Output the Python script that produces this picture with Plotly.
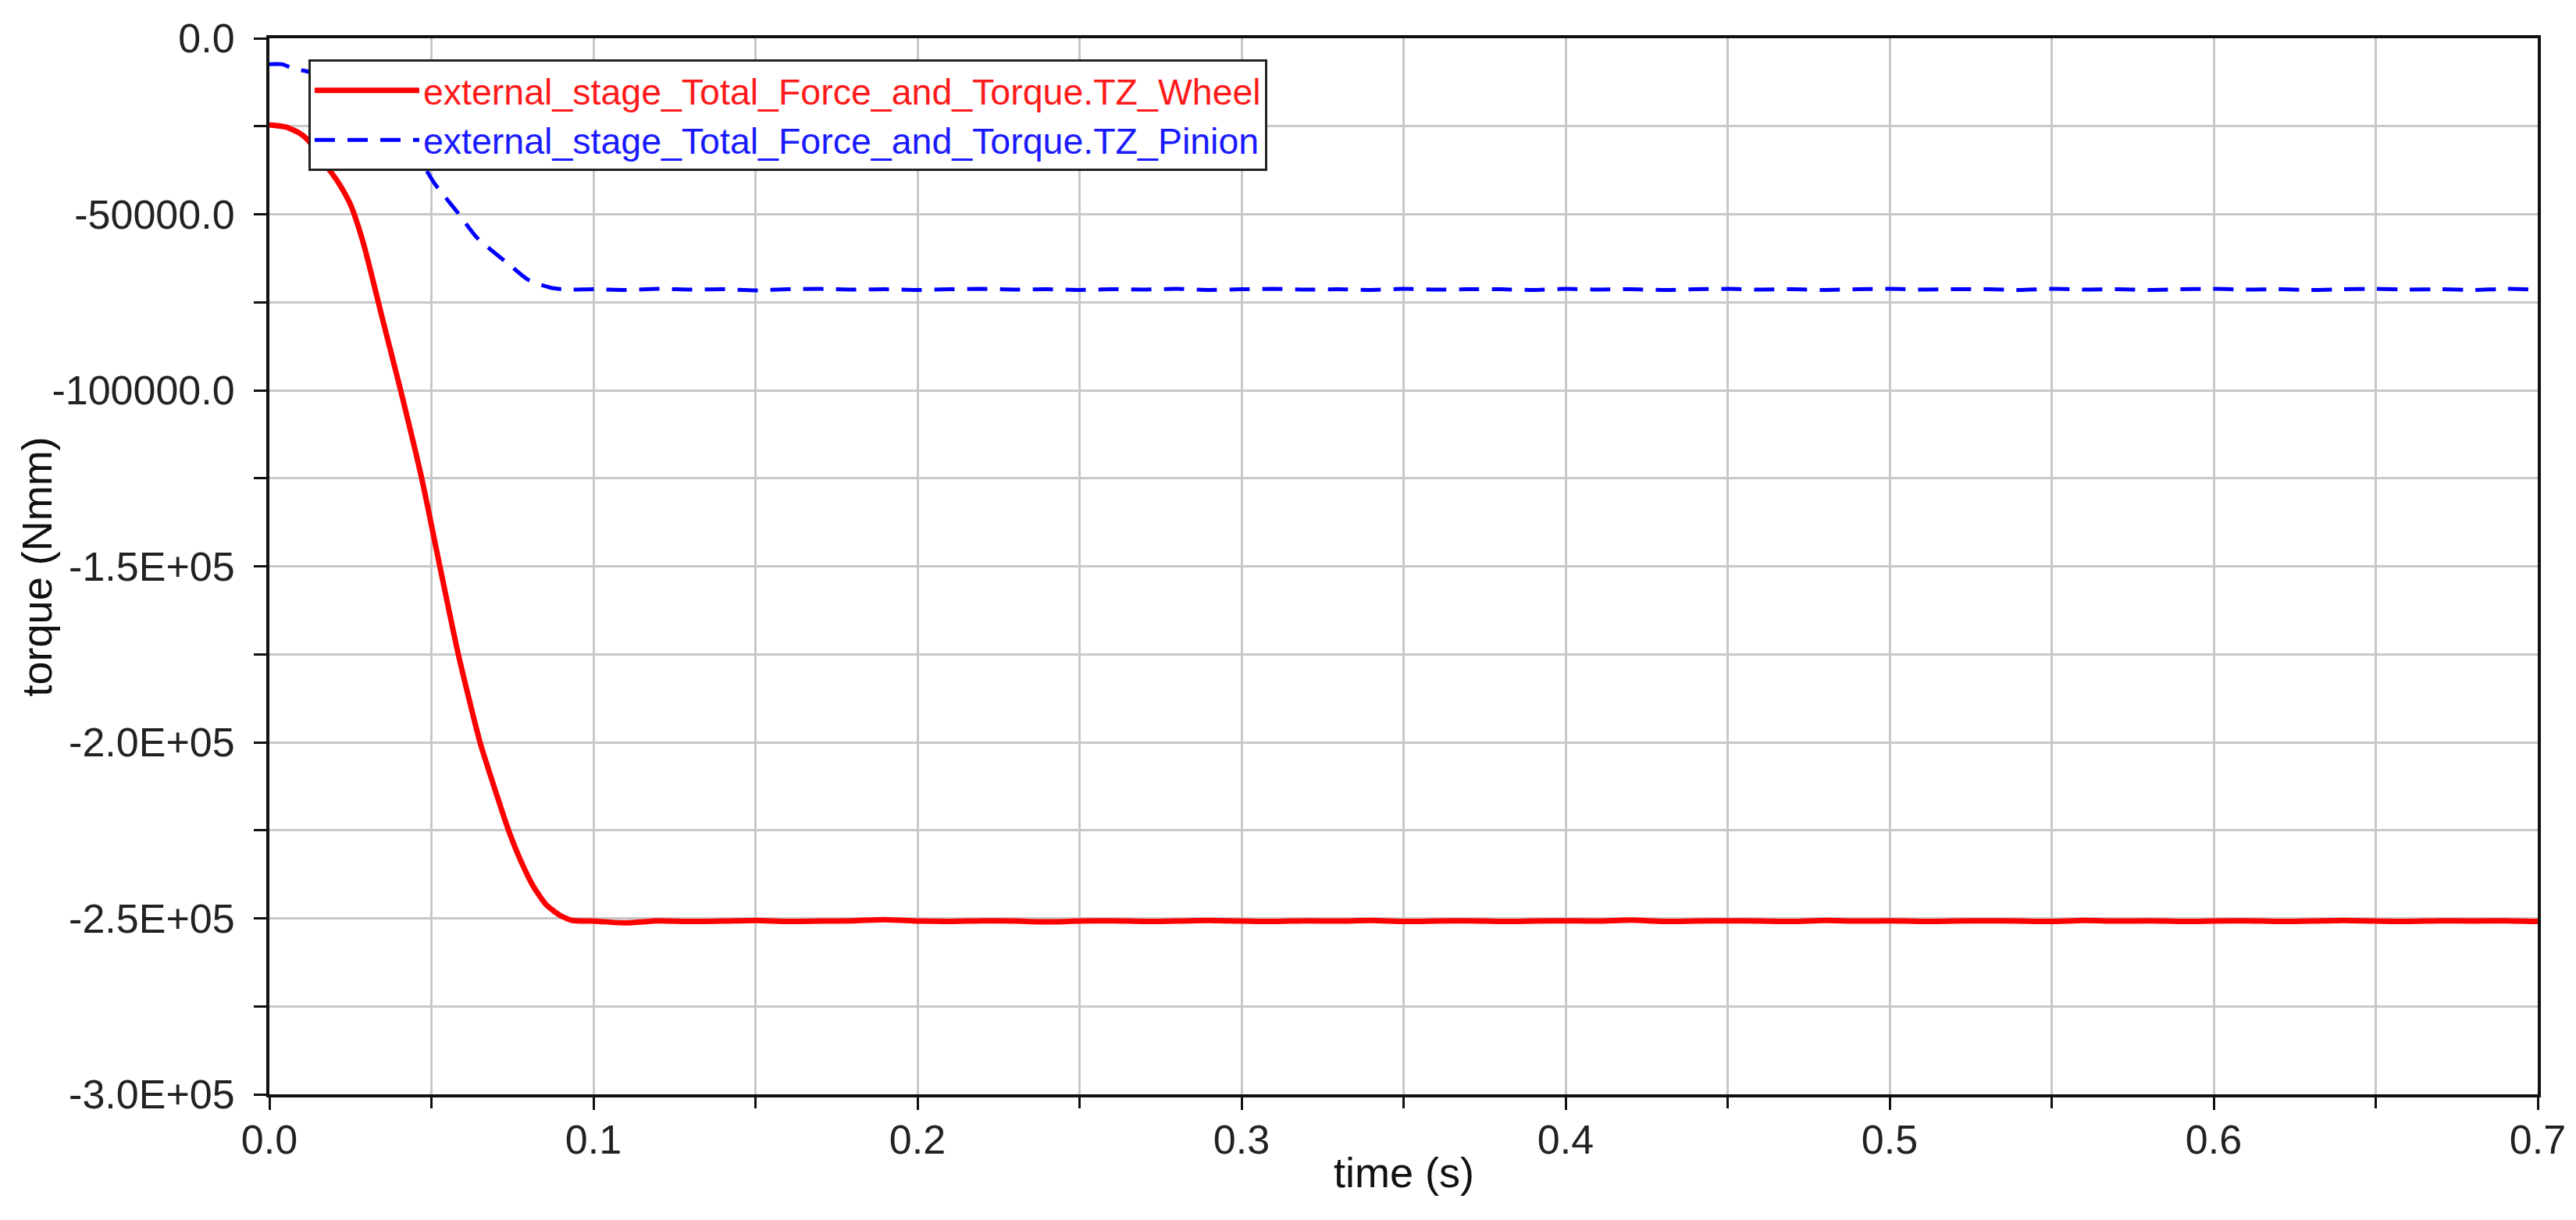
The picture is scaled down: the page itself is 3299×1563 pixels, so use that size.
import plotly.graph_objects as go

# ---------------- data ----------------
wheel_time = [0.0, 0.005, 0.009, 0.012, 0.017, 0.021, 0.025, 0.029, 0.035, 0.0405,
              0.047, 0.0526, 0.0583, 0.065, 0.0687, 0.0738, 0.0776, 0.0815, 0.0855,
              0.0896, 0.0935,
              0.10, 0.11, 0.12, 0.13, 0.14, 0.15, 0.16, 0.17, 0.18, 0.19,
              0.20, 0.21, 0.22, 0.23, 0.24, 0.25, 0.26, 0.27, 0.28, 0.29,
              0.30, 0.31, 0.32, 0.33, 0.34, 0.35, 0.36, 0.37, 0.38, 0.39,
              0.40, 0.41, 0.42, 0.43, 0.44, 0.45, 0.46, 0.47, 0.48, 0.49,
              0.50, 0.51, 0.52, 0.53, 0.54, 0.55, 0.56, 0.57, 0.58, 0.59,
              0.60, 0.61, 0.62, 0.63, 0.64, 0.65, 0.66, 0.67, 0.68, 0.69, 0.70]
wheel_torque = [-24600, -25200, -26800, -29000, -35500, -40600, -47200, -58200, -80100, -100000,
                -125000, -150000, -175000, -200000, -210800, -225000, -233700, -241000, -246200,
                -249100, -250600,
                -250800, -251300, -250700, -250900, -250800, -250600, -250900, -250800, -250700, -250400,
                -250800, -250900, -250700, -250800, -251000, -250800, -250700, -250900, -250800, -250600,
                -250800, -250900, -250700, -250800, -250600, -250900, -250800, -250700, -250900, -250800,
                -250700, -250800, -250500, -250900, -250800, -250700, -250800, -250900, -250600, -250800,
                -250700, -250900, -250800, -250700, -250800, -250900, -250600, -250800, -250700, -250900,
                -250800, -250700, -250900, -250800, -250600, -250800, -250900, -250700, -250800, -250700, -250900]

pinion_time = [0.0, 0.004, 0.0075, 0.012, 0.017, 0.021, 0.025, 0.029, 0.035, 0.0405,
               0.047, 0.051, 0.058, 0.064, 0.074, 0.080, 0.087, 0.092,
               0.10, 0.11, 0.12, 0.13, 0.14, 0.15, 0.16, 0.17, 0.18, 0.19,
               0.20, 0.21, 0.22, 0.23, 0.24, 0.25, 0.26, 0.27, 0.28, 0.29,
               0.30, 0.31, 0.32, 0.33, 0.34, 0.35, 0.36, 0.37, 0.38, 0.39,
               0.40, 0.41, 0.42, 0.43, 0.44, 0.45, 0.46, 0.47, 0.48, 0.49,
               0.50, 0.51, 0.52, 0.53, 0.54, 0.55, 0.56, 0.57, 0.58, 0.59,
               0.60, 0.61, 0.62, 0.63, 0.64, 0.65, 0.66, 0.67, 0.68, 0.69, 0.70]
pinion_torque = [-7400, -7400, -8700, -9500, -11500, -13500, -16000, -19000, -24000, -29500,
                 -35500, -41300, -49400, -56600, -64300, -68700, -70900, -71400,
                 -71300, -71500, -71200, -71400, -71300, -71600, -71300, -71200, -71400, -71300,
                 -71500, -71300, -71200, -71400, -71300, -71500, -71300, -71400, -71200, -71500,
                 -71300, -71200, -71400, -71300, -71500, -71200, -71400, -71300, -71300, -71500,
                 -71200, -71400, -71300, -71500, -71300, -71200, -71400, -71300, -71500, -71300,
                 -71200, -71400, -71300, -71300, -71500, -71200, -71400, -71300, -71500, -71300,
                 -71200, -71400, -71300, -71500, -71300, -71200, -71400, -71300, -71500, -71200, -71400]

wheel_name = "external_stage_Total_Force_and_Torque.TZ_Wheel"
pinion_name = "external_stage_Total_Force_and_Torque.TZ_Pinion"

x_tick_vals = [0.0, 0.1, 0.2, 0.3, 0.4, 0.5, 0.6, 0.7]
x_tick_text = ["0.0", "0.1", "0.2", "0.3", "0.4", "0.5", "0.6", "0.7"]
x_minor_vals = [0.05, 0.15, 0.25, 0.35, 0.45, 0.55, 0.65]
y_tick_vals = [0, -50000, -100000, -150000, -200000, -250000, -300000]
y_tick_text = ["0.0", "-50000.0", "-100000.0", "-1.5E+05", "-2.0E+05", "-2.5E+05", "-3.0E+05"]
y_minor_vals = [-25000, -75000, -125000, -175000, -225000, -275000]

# ---------------- figure ----------------
FONT = "Liberation Sans, Arial, sans-serif"
GRID = "#c8c8c8"
INK = "#111111"

fig = go.Figure()
fig.add_trace(go.Scatter(
    x=wheel_time, y=wheel_torque, mode="lines",
    name='<span style="color:#ff1a1a">' + wheel_name + "</span>",
    line=dict(color="#ff0000", width=7, shape="spline", smoothing=0.6),
))
fig.add_trace(go.Scatter(
    x=pinion_time, y=pinion_torque, mode="lines",
    name='<span style="color:#1a1aff">' + pinion_name + "</span>",
    line=dict(color="#0000ff", width=5, dash="26px,16px", shape="spline", smoothing=0.6),
))

axis_common = dict(
    showline=True, linecolor=INK, linewidth=4, mirror=True,
    showgrid=True, gridcolor=GRID, gridwidth=3,
    zeroline=False,
    ticks="outside", ticklen=16, tickwidth=3, tickcolor=INK,
    tickfont=dict(family=FONT, size=52, color="#222222"),
    ticklabeloverflow="allow",
)

fig.update_xaxes(
    range=[0, 0.7], tickmode="array", tickvals=x_tick_vals, ticktext=x_tick_text,
    minor=dict(tickmode="array", tickvals=x_minor_vals, ticks="outside", ticklen=14,
               tickwidth=3, tickcolor=INK, showgrid=True, gridcolor=GRID, gridwidth=3),
    ticklabelstandoff=-6,
    **axis_common,
)
fig.update_yaxes(
    range=[-300000, 0], tickmode="array", tickvals=y_tick_vals, ticktext=y_tick_text,
    minor=dict(tickmode="array", tickvals=y_minor_vals, ticks="outside", ticklen=16,
               tickwidth=3, tickcolor=INK, showgrid=True, gridcolor=GRID, gridwidth=3),
    ticklabelstandoff=14,
    **axis_common,
)

# page body adds an 8px margin, so the figure is drawn 8px smaller and shifted
fig.update_layout(
    width=3291, height=1555,
    margin=dict(l=337, r=49, t=27, b=161),
    paper_bgcolor="white", plot_bgcolor="white",
    font=dict(family=FONT, color=INK),
    showlegend=True,
    legend=dict(
        x=0.0172, y=0.98, xanchor="left", yanchor="top",
        bgcolor="white", bordercolor="#222222", borderwidth=3,
        font=dict(family=FONT, size=46.5),
        itemwidth=134, tracegroupgap=0,
    ),
    annotations=[
        dict(text="time (s)", xref="paper", yref="paper", x=0.5, y=-0.074,
             xanchor="center", yanchor="middle", showarrow=False,
             font=dict(family=FONT, size=54, color=INK)),
        dict(text="torque (Nmm)", xref="paper", yref="paper", x=-0.1026, y=0.5,
             xanchor="center", yanchor="middle", textangle=-90, showarrow=False,
             font=dict(family=FONT, size=54, color=INK)),
    ],
)

fig.write_html("out.html")
